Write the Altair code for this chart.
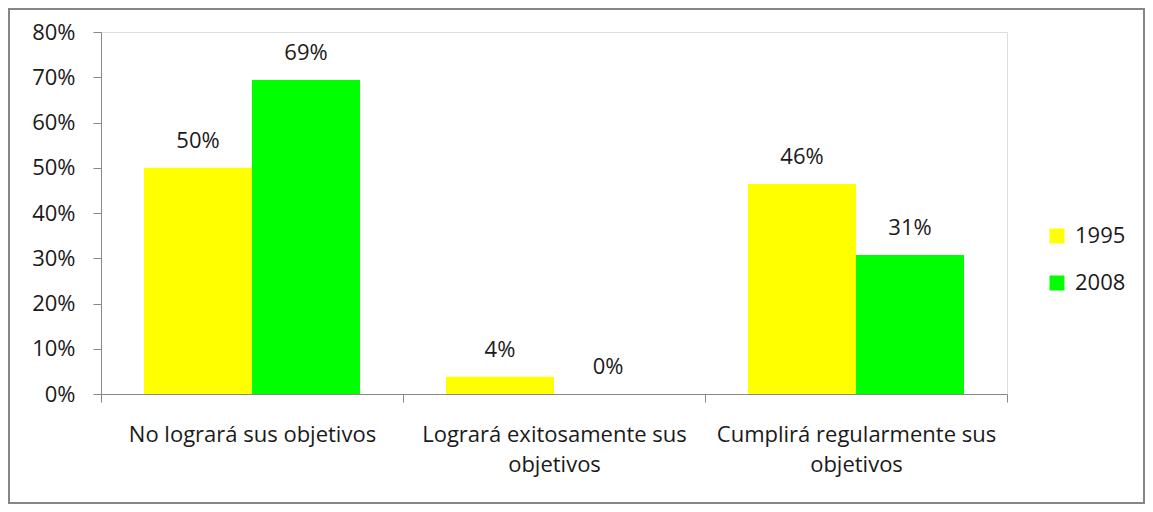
import altair as alt
import pandas as pd

categories = ["No logrará sus objetivos", "Logrará exitosamente sus objetivos", "Cumplirá regularmente sus objetivos"]
label_lines = [["No logrará sus objetivos"], ["Logrará exitosamente sus", "objetivos"], ["Cumplirá regularmente sus", "objetivos"]]
years = ["1995", "2008"]
values_1995 = [0.50, 0.038, 0.464]
values_2008 = [0.694, 0.0, 0.307]
y_ticks = [0, 0.1, 0.2, 0.3, 0.4, 0.5, 0.6, 0.7, 0.8]
colors = ["#FFFF00", "#00FF00"]

rows = []
for c, v1, v2 in zip(categories, values_1995, values_2008):
    rows.append({"cat": c, "year": "1995", "value": v1})
    rows.append({"cat": c, "year": "2008", "value": v2})
df = pd.DataFrame(rows)

expr = ""
for c, lines in zip(categories, label_lines):
    arr = "[" + ",".join("'" + l + "'" for l in lines) + "]"
    expr += f"datum.label == '{c}' ? {arr} : "
expr += "datum.label"

FONT = "Open Sans"
FS = 22
TXT = "#1a1a1a"
W, H = 906, 362

x = alt.X("cat:N", sort=categories, title=None,
          scale=alt.Scale(paddingInner=0, paddingOuter=0),
          axis=alt.Axis(labelExpr=expr, labelAngle=0, tickBand="extent", tickSize=8,
                        labelPadding=22, labelLineHeight=30, labelFontSize=FS,
                        labelFont=FONT, labelColor=TXT, domainColor="#888888",
                        tickColor="#888888", labelLimit=400))
y = alt.Y("value:Q", title=None,
          scale=alt.Scale(domain=[0, 0.8], nice=False),
          axis=alt.Axis(values=y_ticks, format=".0%", grid=False, tickSize=8,
                        labelPadding=18, labelFontSize=FS, labelFont=FONT,
                        labelColor=TXT, domainColor="#888888", tickColor="#888888"))
color = alt.Color("year:N", scale=alt.Scale(domain=years, range=colors),
                  legend=alt.Legend(title=None, orient="none", legendX=945, legendY=193,
                                    symbolType="square", symbolSize=225, symbolStrokeWidth=0,
                                    labelFontSize=FS, labelFont=FONT, labelColor=TXT,
                                    rowPadding=25, padding=0, labelOffset=7))
xoff = alt.XOffset("year:N", sort=years, scale=alt.Scale(paddingInner=0, paddingOuter=0.398))

base = alt.Chart(df).encode(x=x, xOffset=xoff, y=y)
bars = base.mark_bar().encode(color=color)
text = base.mark_text(baseline="middle", dy=-27, fontSize=FS, font=FONT, color=TXT).encode(
    text=alt.Text("value:Q", format=".0%"))

border = alt.Chart(pd.DataFrame({"a": [0]})).mark_rect(
    fill=None, stroke="#868686", strokeWidth=2, clip=False).encode(
    x=alt.value(-92), x2=alt.value(W + 137), y=alt.value(-23), y2=alt.value(H + 109))

chart = alt.layer(border, bars, text).properties(
    width=W, height=H,
    padding={"left": 93, "top": 24, "right": 138, "bottom": 110},
    autosize=alt.AutoSizeParams(type="none"),
).configure_view(stroke=None).configure(background="white")

chart.save("out.html", embed_options={"renderer": "svg", "actions": False})
